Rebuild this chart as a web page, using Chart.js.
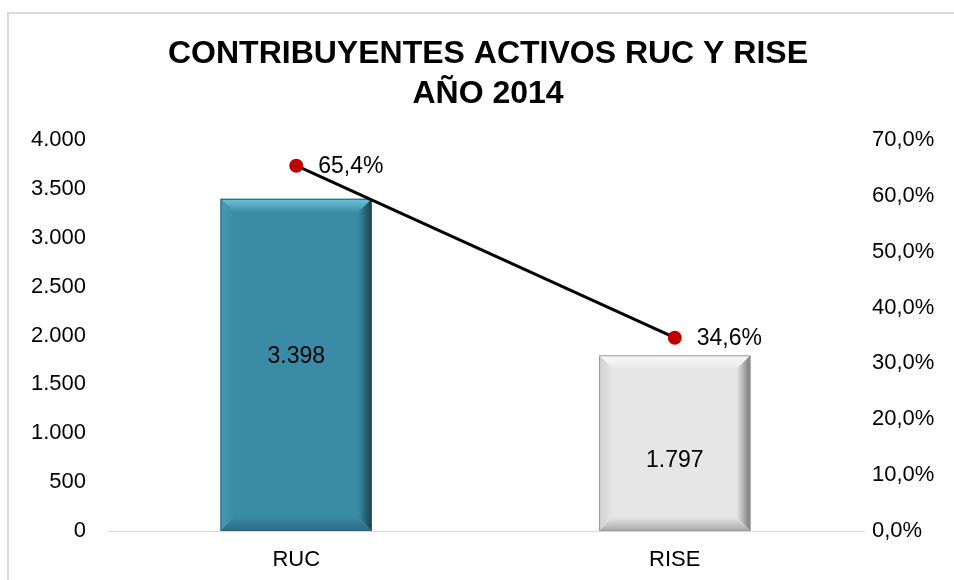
<!DOCTYPE html>
<html>
<head>
<meta charset="utf-8">
<script src="https://cdn.jsdelivr.net/npm/chart.js@4.4.1/dist/chart.umd.min.js"></script>
<style>
  html, body { margin: 0; padding: 0; background: #fff; }
  #wrap { position: relative; width: 954px; height: 580px; overflow: hidden; }
  #frame { position: absolute; left: 7px; top: 12px; width: 1200px; height: 1200px; border: 2px solid #d9d9d9; box-sizing: border-box; }
  #c { position: absolute; left: 0; top: 0; }
</style>
</head>
<body>
<div id="wrap">
  <div id="frame"></div>
  <canvas id="c" width="954" height="580"></canvas>
</div>
<script>
const titleLines = ['CONTRIBUYENTES ACTIVOS RUC Y RISE', 'AÑO 2014'];
const categories = ['RUC', 'RISE'];
const contributorCounts = [3398, 1797];
const sharePercent = [65.4, 34.6];
const leftTicks = [0, 500, 1000, 1500, 2000, 2500, 3000, 3500, 4000];
const rightTicks = [0, 10, 20, 30, 40, 50, 60, 70];

const FONT = "'Liberation Sans', Arial, sans-serif";
const barLabelShift = [-8, 17];

function fmtThousands(v) {
  const s = Math.round(v).toString();
  return s.replace(/\B(?=(\d{3})+(?!\d))/g, '.');
}
function fmtPct(v) {
  return v.toFixed(1).replace('.', ',') + '%';
}

const barStyles = [
  { face: '#3a8ba6', top: '#6cc3dc', left: '#4a9bb6', right: '#1a3f4c', bottom: '#2b6a80', edge: '#2a6476' },
  { face: '#e6e6e6', top: '#fbfbfb', left: '#d0d0d0', right: '#787878', bottom: '#a8a8a8', edge: '#9a9a9a' }
];

const bevelPlugin = {
  id: 'bevel',
  afterDatasetDraw(chart, args) {
    if (args.index !== 0) return;
    const ctx = chart.ctx;
    const meta = args.meta;
    meta.data.forEach((el, i) => {
      const st = barStyles[i];
      const l = el.x - el.width / 2, r = el.x + el.width / 2;
      const t = Math.min(el.y, el.base), b = Math.max(el.y, el.base);
      const bv = 14;
      ctx.save();
      let g = ctx.createLinearGradient(0, t, 0, t + bv);
      g.addColorStop(0, st.top); g.addColorStop(1, st.face);
      ctx.fillStyle = g;
      ctx.beginPath(); ctx.moveTo(l, t); ctx.lineTo(r, t); ctx.lineTo(r - bv, t + bv); ctx.lineTo(l + bv, t + bv); ctx.closePath(); ctx.fill();
      g = ctx.createLinearGradient(l, 0, l + bv, 0);
      g.addColorStop(0, st.left); g.addColorStop(1, st.face);
      ctx.fillStyle = g;
      ctx.beginPath(); ctx.moveTo(l, t); ctx.lineTo(l + bv, t + bv); ctx.lineTo(l + bv, b - bv); ctx.lineTo(l, b); ctx.closePath(); ctx.fill();
      g = ctx.createLinearGradient(r - bv, 0, r, 0);
      g.addColorStop(0, st.face); g.addColorStop(1, st.right);
      ctx.fillStyle = g;
      ctx.beginPath(); ctx.moveTo(r, t); ctx.lineTo(r - bv, t + bv); ctx.lineTo(r - bv, b - bv); ctx.lineTo(r, b); ctx.closePath(); ctx.fill();
      g = ctx.createLinearGradient(0, b - bv, 0, b);
      g.addColorStop(0, st.face); g.addColorStop(1, st.bottom);
      ctx.fillStyle = g;
      ctx.beginPath(); ctx.moveTo(l, b); ctx.lineTo(l + bv, b - bv); ctx.lineTo(r - bv, b - bv); ctx.lineTo(r, b); ctx.closePath(); ctx.fill();
      ctx.strokeStyle = st.edge; ctx.lineWidth = 1;
      ctx.strokeRect(l + 0.5, t + 0.5, r - l - 1, b - t - 1);
      ctx.restore();
    });
  }
};

const labelPlugin = {
  id: 'valueLabels',
  afterDatasetsDraw(chart) {
    const ctx = chart.ctx;
    ctx.save();
    ctx.fillStyle = '#000';
    ctx.font = '23px ' + FONT;
    const barMeta = chart.getDatasetMeta(0);
    ctx.textAlign = 'center'; ctx.textBaseline = 'middle';
    barMeta.data.forEach((el, i) => {
      const mid = (el.y + el.base) / 2 + barLabelShift[i];
      ctx.fillText(fmtThousands(contributorCounts[i]), el.x, mid);
    });
    const lineMeta = chart.getDatasetMeta(1);
    ctx.textAlign = 'left';
    lineMeta.data.forEach((el, i) => {
      ctx.fillText(fmtPct(sharePercent[i]), el.x + 22, el.y + 1);
    });
    ctx.restore();
  }
};

new Chart(document.getElementById('c'), {
  data: {
    labels: categories,
    datasets: [
      {
        type: 'bar',
        data: contributorCounts,
        yAxisID: 'y',
        backgroundColor: barStyles.map(s => s.face),
        borderWidth: 0,
        barPercentage: 0.8,
        categoryPercentage: 0.5,
        order: 1
      },
      {
        type: 'line',
        data: sharePercent,
        yAxisID: 'y1',
        borderColor: '#000',
        borderWidth: 3,
        pointBackgroundColor: '#c00000',
        pointBorderColor: '#c00000',
        pointBorderWidth: 0,
        pointRadius: 7,
        tension: 0,
        order: 0
      }
    ]
  },
  options: {
    responsive: false,
    animation: false,
    layout: { padding: { left: 22, right: 0, top: 0, bottom: 0 } },
    plugins: {
      legend: { display: false },
      tooltip: { enabled: false },
      title: {
        display: true,
        text: titleLines,
        color: '#000',
        font: { family: FONT, size: 32, weight: 'bold', lineHeight: 1.25 },
        padding: { top: 34, bottom: 26 }
      }
    },
    scales: {
      x: {
        grid: { display: false, drawTicks: false },
        border: { display: true, color: '#d9d9d9', width: 1 },
        ticks: { color: '#000', font: { family: FONT, size: 22 }, padding: 16 },
        afterFit(s) { s.height = 49; }
      },
      y: {
        position: 'left',
        min: 0, max: 4000,
        afterBuildTicks(s) { s.ticks = leftTicks.map(v => ({ value: v })); },
        grid: { display: false, drawTicks: false },
        border: { display: false },
        ticks: { color: '#000', font: { family: FONT, size: 22 }, padding: 21, callback: v => fmtThousands(v) },
        afterFit(s) { s.width = 85; }
      },
      y1: {
        position: 'right',
        min: 0, max: 70,
        afterBuildTicks(s) { s.ticks = rightTicks.map(v => ({ value: v })); },
        grid: { display: false, drawTicks: false },
        border: { display: false },
        ticks: { color: '#000', font: { family: FONT, size: 22 }, padding: 8, callback: v => fmtPct(v) },
        afterFit(s) { s.width = 90; }
      }
    }
  },
  plugins: [bevelPlugin, labelPlugin]
});
</script>
</body>
</html>
